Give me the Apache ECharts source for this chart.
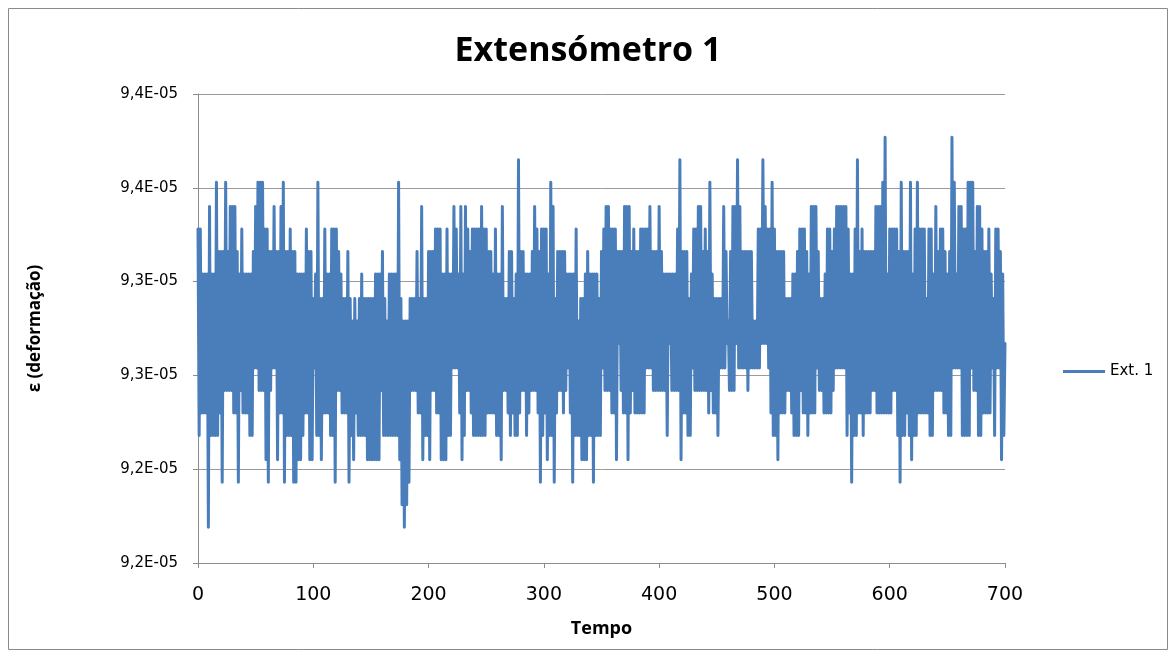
<!DOCTYPE html>
<html><head><meta charset="utf-8">
<script src="https://cdn.jsdelivr.net/npm/echarts@6/dist/echarts.min.js"></script>
<style>html,body{margin:0;padding:0;background:#fff}#c{width:1176px;height:657px}</style>
</head><body><div id="c"></div><script>
const titleText = 'Extensómetro 1';
const seriesName = 'Ext. 1';
const xAxisTitle = 'Tempo';
const yAxisTitle = 'ε (deformação)';
const xTicks = [0, 100, 200, 300, 400, 500, 600, 700];
const yTicks = [9.15, 9.20, 9.25, 9.30, 9.35, 9.40];
const yTickLabels = ['9,2E-05', '9,2E-05', '9,3E-05', '9,3E-05', '9,4E-05', '9,4E-05'];

// Ext. 1 strain values (×1E-05), Tempo 0..700
const ext1_000 = [
9.328,9.218,9.328,9.230,9.304,9.230,9.304,9.230,9.304,9.169,
9.340,9.218,9.304,9.218,9.304,9.218,9.353,9.218,9.316,9.230,
9.316,9.193,9.316,9.242,9.353,9.242,9.316,9.242,9.340,9.242,
9.340,9.230,9.340,9.230,9.316,9.193,9.304,9.242,9.328,9.230,
9.304,9.230,9.304,9.230,9.304,9.218,9.304,9.218,9.316,9.254,
9.340,9.254,9.353,9.242,9.353,9.242,9.353,9.242,9.328,9.205,
9.328,9.193,9.316,9.242,9.316,9.254,9.340,9.254,9.316,9.205,
9.316,9.230,9.340,9.230,9.353,9.193,9.316,9.218,9.316,9.218,
9.328,9.218,9.316,9.193,9.316,9.193,9.304,9.205,9.304,9.205,
9.304,9.218,9.304,9.230,9.328,9.230,9.316,9.205,9.316,9.205];
const ext1_100 = [
9.291,9.254,9.304,9.218,9.353,9.218,9.291,9.205,9.291,9.230,
9.328,9.230,9.304,9.230,9.304,9.218,9.328,9.218,9.328,9.193,
9.328,9.242,9.316,9.242,9.304,9.230,9.291,9.230,9.291,9.230,
9.316,9.193,9.291,9.218,9.279,9.205,9.291,9.230,9.279,9.218,
9.291,9.218,9.304,9.218,9.291,9.218,9.291,9.205,9.291,9.205,
9.291,9.205,9.291,9.205,9.304,9.205,9.304,9.205,9.304,9.242,
9.316,9.218,9.291,9.218,9.279,9.218,9.304,9.218,9.304,9.218,
9.304,9.218,9.304,9.218,9.353,9.205,9.291,9.181,9.279,9.169,
9.279,9.181,9.279,9.193,9.291,9.242,9.291,9.242,9.291,9.242,
9.316,9.230,9.291,9.230,9.340,9.205,9.291,9.218,9.291,9.218];
const ext1_200 = [
9.316,9.205,9.316,9.242,9.316,9.242,9.328,9.230,9.328,9.230,
9.328,9.205,9.304,9.205,9.304,9.205,9.328,9.218,9.304,9.218,
9.304,9.254,9.340,9.254,9.328,9.254,9.304,9.230,9.340,9.205,
9.304,9.218,9.340,9.242,9.328,9.242,9.316,9.230,9.328,9.218,
9.328,9.218,9.328,9.218,9.328,9.218,9.340,9.218,9.328,9.218,
9.328,9.230,9.316,9.230,9.316,9.230,9.304,9.230,9.328,9.218,
9.304,9.218,9.304,9.205,9.340,9.242,9.291,9.242,9.291,9.230,
9.316,9.218,9.316,9.230,9.291,9.218,9.304,9.218,9.365,9.230,
9.316,9.242,9.316,9.242,9.304,9.218,9.304,9.230,9.304,9.242,
9.316,9.242,9.340,9.242,9.328,9.230,9.316,9.193,9.328,9.218];
const ext1_300 = [
9.328,9.230,9.328,9.205,9.304,9.218,9.353,9.218,9.340,9.193,
9.291,9.230,9.316,9.242,9.316,9.242,9.316,9.230,9.316,9.242,
9.304,9.254,9.304,9.230,9.304,9.193,9.304,9.218,9.328,9.218,
9.279,9.218,9.291,9.205,9.291,9.205,9.304,9.205,9.316,9.218,
9.304,9.218,9.304,9.193,9.304,9.218,9.304,9.218,9.291,9.218,
9.316,9.254,9.328,9.242,9.340,9.242,9.340,9.242,9.328,9.230,
9.328,9.230,9.328,9.205,9.316,9.267,9.316,9.242,9.316,9.230,
9.340,9.230,9.340,9.205,9.340,9.230,9.316,9.242,9.328,9.230,
9.316,9.230,9.316,9.230,9.328,9.230,9.328,9.230,9.328,9.254,
9.328,9.254,9.340,9.254,9.316,9.242,9.316,9.242,9.316,9.242];
const ext1_400 = [
9.340,9.242,9.316,9.242,9.304,9.242,9.304,9.218,9.304,9.267,
9.304,9.242,9.304,9.242,9.304,9.242,9.328,9.242,9.365,9.205,
9.316,9.230,9.316,9.230,9.316,9.218,9.291,9.218,9.304,9.254,
9.328,9.242,9.328,9.242,9.340,9.242,9.340,9.242,9.316,9.242,
9.328,9.242,9.316,9.230,9.353,9.242,9.304,9.230,9.291,9.230,
9.291,9.218,9.291,9.254,9.291,9.254,9.340,9.254,9.316,9.267,
9.279,9.242,9.316,9.242,9.340,9.242,9.340,9.267,9.365,9.254,
9.340,9.254,9.316,9.254,9.316,9.254,9.316,9.242,9.316,9.254,
9.316,9.254,9.279,9.254,9.279,9.254,9.328,9.254,9.328,9.267,
9.365,9.267,9.340,9.267,9.328,9.254,9.328,9.230,9.353,9.218];
const ext1_500 = [
9.328,9.218,9.316,9.205,9.316,9.230,9.316,9.230,9.316,9.230,
9.291,9.242,9.291,9.242,9.291,9.230,9.304,9.218,9.304,9.218,
9.316,9.218,9.328,9.242,9.328,9.230,9.328,9.230,9.316,9.218,
9.304,9.230,9.340,9.230,9.340,9.230,9.340,9.254,9.316,9.242,
9.291,9.242,9.291,9.230,9.304,9.230,9.328,9.230,9.328,9.230,
9.316,9.242,9.328,9.254,9.340,9.254,9.340,9.254,9.340,9.254,
9.340,9.254,9.340,9.218,9.328,9.230,9.304,9.193,9.304,9.218,
9.328,9.218,9.365,9.230,9.316,9.230,9.328,9.218,9.316,9.230,
9.316,9.230,9.316,9.230,9.316,9.242,9.316,9.242,9.340,9.230,
9.340,9.230,9.340,9.230,9.353,9.230,9.377,9.230,9.304,9.230];
const ext1_600 = [
9.328,9.230,9.328,9.242,9.328,9.242,9.328,9.218,9.316,9.193,
9.353,9.218,9.316,9.218,9.316,9.230,9.316,9.218,9.353,9.205,
9.304,9.218,9.328,9.218,9.353,9.230,9.328,9.230,9.328,9.230,
9.328,9.230,9.291,9.230,9.328,9.218,9.328,9.218,9.304,9.242,
9.340,9.242,9.316,9.242,9.328,9.242,9.328,9.230,9.316,9.230,
9.304,9.218,9.316,9.218,9.377,9.254,9.353,9.254,9.304,9.254,
9.340,9.254,9.340,9.218,9.328,9.218,9.328,9.218,9.353,9.218,
9.353,9.254,9.353,9.242,9.316,9.242,9.340,9.218,9.340,9.218,
9.328,9.230,9.316,9.230,9.316,9.230,9.328,9.230,9.304,9.254,
9.291,9.218,9.328,9.254,9.328,9.254,9.316,9.205,9.304,9.218];
const ext1_700 = [9.267];

const ext1 = [].concat(ext1_000, ext1_100, ext1_200, ext1_300, ext1_400, ext1_500, ext1_600, ext1_700);
const seriesData = ext1.map((v, i) => [i, v]);

const chart = echarts.init(document.getElementById('c'), null, {renderer: 'canvas'});
const axisGray = '#8c8c8c';
chart.setOption({
  animation: false,
  backgroundColor: '#ffffff',
  title: {
    text: titleText, left: 'center', top: 29,
    textStyle: {fontFamily: 'Open Sans', fontWeight: 'bold', fontSize: 34, color: '#000'}
  },
  graphic: [{
    type: 'rect', shape: {x: 8.5, y: 8.5, width: 1159, height: 641},
    style: {fill: 'none', stroke: '#8a8a8a', lineWidth: 1}, silent: true, z: -1
  }],
  legend: {
    data: [seriesName], left: 1058, top: 359, icon: 'rect', itemWidth: 42, itemHeight: 3,
    itemGap: 6,
    textStyle: {fontFamily: 'DejaVu Sans', fontSize: 15, color: '#000'}
  },
  grid: {left: 198, right: 171, top: 94, bottom: 94, containLabel: false},
  xAxis: {
    type: 'value', min: xTicks[0], max: xTicks[xTicks.length - 1], interval: 100,
    name: xAxisTitle, nameLocation: 'middle', nameGap: 57,
    nameTextStyle: {fontFamily: 'Open Sans', fontWeight: 'bold', fontSize: 18, color: '#000'},
    axisLine: {show: true, lineStyle: {color: axisGray, width: 1}},
    axisTick: {show: true, length: 5, lineStyle: {color: axisGray}},
    axisLabel: {fontFamily: 'DejaVu Sans', fontSize: 19, color: '#000', margin: 23},
    splitLine: {show: false}
  },
  yAxis: {
    type: 'value', min: yTicks[0], max: yTicks[yTicks.length - 1], interval: 0.05,
    name: yAxisTitle, nameLocation: 'middle', nameGap: 154,
    nameTextStyle: {fontFamily: 'Open Sans', fontWeight: 'bold', fontSize: 17, color: '#000'},
    axisLine: {show: true, lineStyle: {color: axisGray, width: 1}},
    axisTick: {show: true, length: 5, lineStyle: {color: axisGray}},
    axisLabel: {
      fontFamily: 'DejaVu Sans', fontSize: 15, color: '#000', margin: 20,
      formatter: function (v) {
        let best = 0, d = Infinity;
        yTicks.forEach((t, i) => { const dd = Math.abs(t - v); if (dd < d) { d = dd; best = i; } });
        return yTickLabels[best];
      }
    },
    splitLine: {show: true, lineStyle: {color: '#9a9a9a', width: 1}}
  },
  series: [{
    name: seriesName, type: 'line', data: seriesData, showSymbol: false, symbol: 'none',
    lineStyle: {color: '#4A7EBB', width: 3, join: 'round', cap: 'round'},
    itemStyle: {color: '#4A7EBB'}
  }]
});
</script></body></html>
